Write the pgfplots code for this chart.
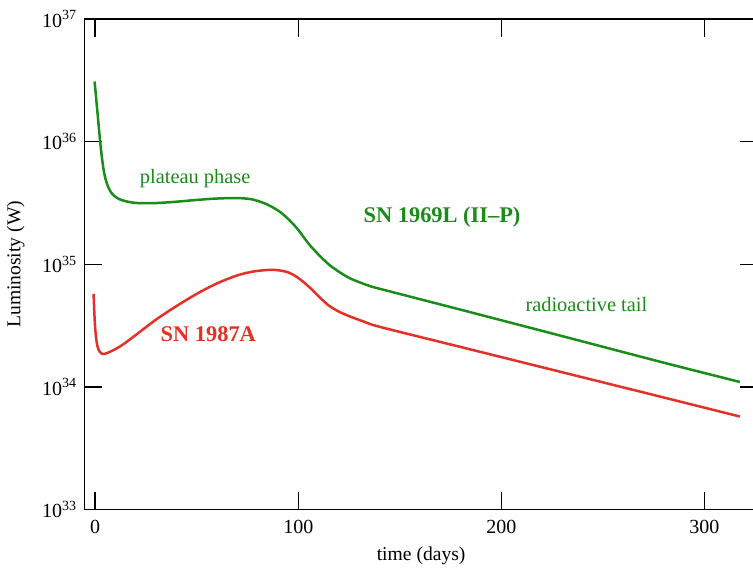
\documentclass[border=0pt]{standalone}
\usepackage{fontspec}
\setmainfont{Liberation Serif}
\usepackage{pgfplots}
\pgfplotsset{compat=1.18}

\definecolor{sngreen}{RGB}{25,140,25}
\definecolor{snred}{RGB}{228,48,38}

\begin{document}
\begin{tikzpicture}
\begin{axis}[
  scale only axis,
  width=337pt, height=245.5pt,
  xmin=-5.4, xmax=326.4,
  ymode=log, ymin=1e33, ymax=1e37,
  xtick={0,100,200,300},
  xticklabels={0,100,200,300},
  ytick={1e33,1e34,1e35,1e36,1e37},
  yticklabels={10\textsuperscript{33},10\textsuperscript{34},10\textsuperscript{35},10\textsuperscript{36},10\textsuperscript{37}},
  yminorticks=false,
  tick align=inside,
  major tick length=9pt,
  tick style={line width=0.75pt, black},
  axis line style={line width=0.75pt},
  ticklabel style={font=\fontsize{10}{12}\selectfont},
  xticklabel style={yshift=-1.5pt},
  label style={font=\fontsize{9.8}{12}\selectfont},
  xlabel={time (days)},
  ylabel={Luminosity (W)},
  ylabel style={yshift=2pt},
]
% SN 1969L (II-P)
\addplot[sngreen, line width=1.25pt, smooth] coordinates {
(-0.3,3.09e36) (1.2,1.66e36) (2.5,9.77e35) (3.6,6.76e35) (4.6,5.37e35)
(5.8,4.52e35) (7.3,3.98e35) (9.2,3.63e35) (12,3.39e35) (16,3.24e35)
(21,3.16e35) (30,3.16e35) (40,3.24e35) (50,3.35e35) (60,3.44e35)
(70,3.47e35) (77,3.39e35) (83,3.16e35) (88,2.88e35) (92,2.60e35)
(96,2.26e35) (100,1.91e35) (105,1.48e35) (110,1.20e35) (115,1.0e35)
(120,8.71e34) (125,7.76e34) (130,7.16e34) (135,6.68e34) (140.3,6.31e34)
(180,4.27e34) (230,2.60e34) (280,1.58e34) (317.5,1.10e34)
};
% SN 1987A
\addplot[snred, line width=1.25pt, smooth] coordinates {
(-0.8,5.75e34) (-0.5,4.27e34) (-0.1,3.16e34) (0.5,2.45e34) (1.3,2.09e34)
(2.3,1.93e34) (3.5,1.86e34) (5,1.87e34) (7,1.93e34) (10,2.04e34)
(14,2.24e34) (20,2.66e34) (30,3.55e34) (40,4.57e34) (50,5.75e34)
(60,7.00e34) (70,8.13e34) (78,8.75e34) (86,9.02e34) (91,8.91e34)
(95,8.60e34) (99,7.95e34) (103,7.08e34) (107,6.17e34) (111,5.30e34)
(115,4.62e34) (120,4.12e34) (125.5,3.76e34) (132,3.43e34) (140.3,3.09e34)
(180,2.12e34) (230,1.32e34) (280,8.22e33) (317.5,5.75e33)
};
\node[anchor=base, sngreen, font=\fontsize{10.2}{12}\selectfont] at (axis cs:49.2,4.57e35) {plateau phase};
\node[anchor=base, sngreen, font=\fontsize{11.2}{13}\selectfont\bfseries] at (axis cs:170.8,2.18e35) {SN 1969L (II\textendash P)};
\node[anchor=base, sngreen, font=\fontsize{10.2}{12}\selectfont] at (axis cs:241.9,4.11e34) {radioactive tail};
\node[anchor=base, snred, font=\fontsize{11.2}{13}\selectfont\bfseries] at (axis cs:55.7,2.37e34) {SN 1987A};
\coordinate (cut) at (rel axis cs:0.9926,1);
\end{axis}
\coordinate (bbsw) at (current bounding box.south west);
\coordinate (bbne) at ([yshift=2pt]current bounding box.north east);
\pgfresetboundingbox
\path (bbsw) rectangle (cut |- bbne);
\end{tikzpicture}
\end{document}
